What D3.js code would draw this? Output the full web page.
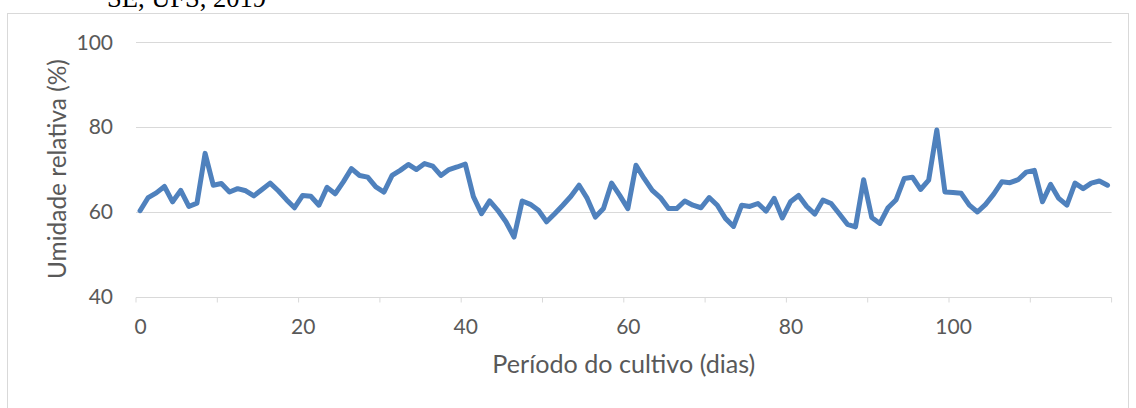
<!DOCTYPE html>
<html><head><meta charset="utf-8">
<script src="https://cdn.jsdelivr.net/npm/d3@7"></script>
<style>
html,body{margin:0;padding:0;background:#fff;overflow:hidden;}
svg{display:block;}
</style></head>
<body>
<svg id="chart" width="1136" height="408"></svg>
<script>
// Days of the growing period (categories)
const days = d3.range(0, 120);
// Relative humidity (%) per day
const humidity = [
  60.2, 63.3, 64.4, 65.9, 62.3, 65.0, 61.2, 62.0, 73.7, 66.2,
  66.6, 64.6, 65.4, 64.9, 63.7, 65.2, 66.7, 64.9, 62.8, 60.9,
  63.8, 63.6, 61.5, 65.7, 64.2, 67.0, 70.1, 68.5, 68.1, 65.8,
  64.6, 68.5, 69.7, 71.1, 69.9, 71.3, 70.7, 68.5, 69.9, 70.5,
  71.2, 63.5, 59.5, 62.5, 60.3, 57.6, 54.0, 62.5, 61.7, 60.3,
  57.6, 59.5, 61.5, 63.6, 66.2, 63.1, 58.7, 60.7, 66.7, 63.8,
  60.7, 70.9, 67.8, 65.0, 63.3, 60.7, 60.7, 62.5, 61.5, 60.9,
  63.3, 61.5, 58.4, 56.5, 61.5, 61.2, 61.9, 60.1, 63.1, 58.5,
  62.3, 63.8, 61.2, 59.4, 62.7, 61.9, 59.5, 57.0, 56.4, 67.5,
  58.6, 57.2, 60.9, 62.8, 67.8, 68.1, 65.2, 67.4, 79.2, 64.6,
  64.5, 64.3, 61.5, 59.9, 61.7, 64.1, 67.0, 66.8, 67.5, 69.3,
  69.7, 62.3, 66.4, 63.1, 61.5, 66.7, 65.4, 66.7, 67.2, 66.2
];
const yTicks = [40, 60, 80, 100];
const xLabelDays = [0, 20, 40, 60, 80, 100];
const xTickMarks = [0, 10, 20, 30, 40, 50, 60, 70, 80, 90, 100, 110, 120];
const titleText = "SE, UFS, 2019";
const xTitle = "Período do cultivo (dias)";
const yTitle = "Umidade relativa (%)";

const svg = d3.select("#chart");
const L = 136, R = 1111.6, T = 41.7, B = 296.5;
const font = "Lato, 'Open Sans', sans-serif";
const textCol = "#595959", gridCol = "#d9d9d9";

// chart border
svg.append("rect").attr("x", 7.5).attr("y", 13.5).attr("width", 1121).attr("height", 402)
  .attr("fill", "#fff").attr("stroke", gridCol).attr("stroke-width", 1);

// clipped title above the chart (cut off at the top edge, as in the reference)
svg.append("text").attr("x", 107).attr("y", 7).text(titleText)
  .attr("font-family", "'Liberation Serif', 'Times New Roman', serif")
  .attr("font-size", 26.5).attr("fill", "#000");

const x = d3.scaleBand().domain(days).range([L, R]).paddingInner(0).paddingOuter(0);
const cx = d => x(d) + x.bandwidth() / 2;
const y = d3.scaleLinear().domain([40, 100]).range([B, T]);

// gridlines
svg.append("g").selectAll("line").data(yTicks.filter(v => v > 40)).join("line")
  .attr("x1", L).attr("x2", R).attr("y1", d => Math.round(y(d)) + 0.5).attr("y2", d => Math.round(y(d)) + 0.5)
  .attr("stroke", gridCol).attr("stroke-width", 1);

// y axis labels
const yAxis = d3.axisLeft(y).tickValues(yTicks).tickSize(0).tickPadding(0).tickFormat(d3.format("d"));
const gy = svg.append("g").attr("transform", `translate(113,0)`).call(yAxis);
gy.select(".domain").remove();
gy.selectAll("text").attr("font-family", font).attr("font-size", 21).attr("fill", textCol).attr("dy", "0.35em");

// x axis line and tick marks
const xb = Math.round(B) + 0.5;
svg.append("line").attr("x1", L).attr("x2", R).attr("y1", xb).attr("y2", xb)
  .attr("stroke", gridCol).attr("stroke-width", 1);
svg.append("g").selectAll("line").data(xTickMarks).join("line")
  .attr("x1", d => (d < days.length ? x(d) : R)).attr("x2", d => (d < days.length ? x(d) : R))
  .attr("y1", xb).attr("y2", xb + 5)
  .attr("stroke", gridCol).attr("stroke-width", 1);

// x axis labels
const xLab = d3.scalePoint().domain(days).range([cx(0), cx(days[days.length - 1])]);
const xAxis = d3.axisBottom(xLab).tickValues(xLabelDays).tickSize(0).tickPadding(0);
const gx = svg.append("g").attr("transform", `translate(0,334)`).call(xAxis);
gx.select(".domain").remove();
gx.selectAll("text").attr("font-family", font).attr("font-size", 21).attr("fill", textCol).attr("dy", 0);

// axis titles
const xt = svg.append("text").attr("x", (L + R) / 2).attr("y", 373).attr("text-anchor", "middle")
  .attr("font-family", font).attr("font-size", 21).attr("fill", textCol).text(xTitle);
const xw = xt.node().getComputedTextLength();
xt.attr("font-size", 21 * 263 / xw);

const yt = svg.append("text").attr("transform", `translate(66,${(T + B) / 2}) rotate(-90)`)
  .attr("text-anchor", "middle").attr("font-family", font).attr("font-size", 21).attr("fill", textCol).text(yTitle);
const yw = yt.node().getComputedTextLength();
yt.attr("font-size", 21 * 220 / yw);

// data line
const line = d3.line().x((d, i) => cx(days[i])).y(d => y(d));
svg.append("path").datum(humidity).attr("d", line)
  .attr("fill", "none").attr("stroke", "#4f81bd").attr("stroke-width", 5)
  .attr("stroke-linejoin", "round").attr("stroke-linecap", "round");
</script>
</body></html>
